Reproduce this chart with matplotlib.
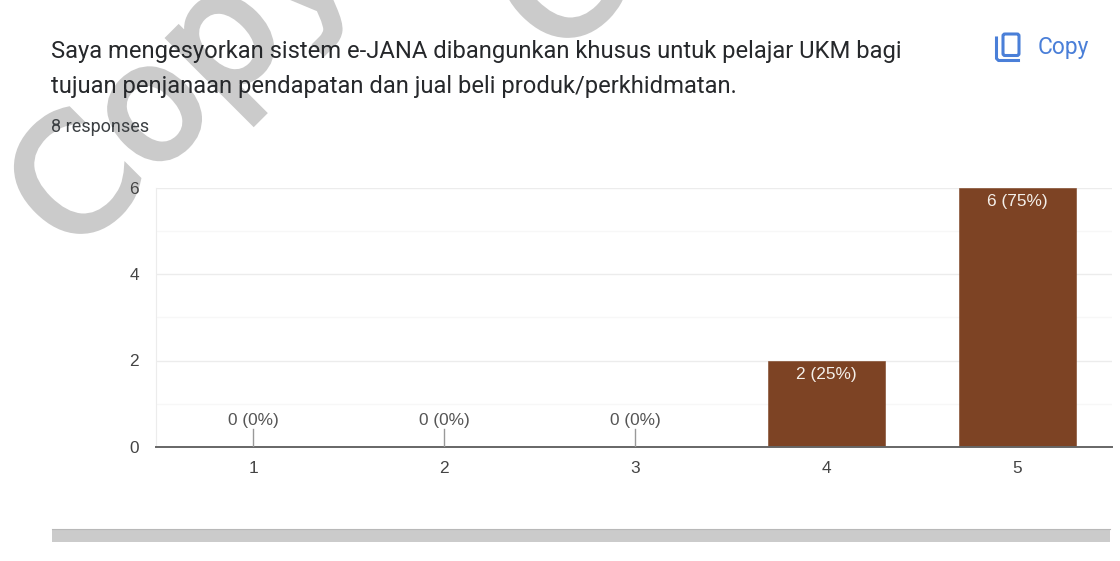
import matplotlib
matplotlib.use('Agg')
import matplotlib.pyplot as plt
import matplotlib.patheffects as pe
from matplotlib.patches import Rectangle, FancyBboxPatch

categories = ['1', '2', '3', '4', '5']
counts = [0, 0, 0, 2, 6]
y_ticks = [0, 2, 4, 6]
minor_ticks = [1, 3, 5]
title_lines = ['Saya mengesyorkan sistem e-JANA dibangunkan khusus untuk pelajar UKM bagi',
               'tujuan penjanaan pendapatan dan jual beli produk/perkhidmatan.']
n_responses = '8 responses'

BROWN = '#7d4324'
GREY = '#cbcbcb'
total = sum(counts)

fig = plt.figure(figsize=(11.2, 5.61), dpi=100)

# full-figure layer in pixel coordinates for the page furniture
page = fig.add_axes([0, 0, 1, 1])
page.set_xlim(0, 1120)
page.set_ylim(561, 0)
page.axis('off')

# repeated watermark behind everything, thickened with an outline
for wx, wy in [(72, 258), (559, 62)]:
    page.text(wx, wy, 'Copy', fontsize=115, family='DejaVu Sans', color=GREY,
              rotation=45, rotation_mode='anchor', ha='left', va='baseline', clip_on=True, zorder=1,
              path_effects=[pe.withStroke(linewidth=4, foreground=GREY, joinstyle='miter')])

page.text(51, 51, title_lines[0], fontsize=17.1, family='Roboto', color='#26282b', va='center', zorder=5)
page.text(51, 86, title_lines[1], fontsize=17.1, family='Roboto', color='#26282b', va='center', zorder=5)
page.text(51, 127, n_responses, fontsize=13, family='Roboto', color='#3c4043', va='center', zorder=5)

# copy button
BLUE = '#4a7fd8'
page.add_patch(FancyBboxPatch((1003, 34), 16, 21.5, boxstyle='round,pad=0,rounding_size=2',
                              fill=False, ec=BLUE, lw=2.2, zorder=5))
page.plot([996.5, 996.5, 998.5, 1018.5], [38, 58.5, 60.5, 60.5], color=BLUE, lw=2.2, zorder=5)
page.text(1038, 47, 'Copy', fontsize=16.4, family='Roboto', color=BLUE, va='center', zorder=5)

# section divider under the chart
page.add_patch(Rectangle((52, 529), 1058, 13, fc=GREY, ec='none', zorder=2))
page.plot([52, 1110], [529, 529], color='#b8b8b8', lw=0.8, zorder=2)

# chart axes, transparent so the watermark shows through
ax = fig.add_axes([156 / 1120, 1 - 447 / 561, (1112 - 156) / 1120, (447 - 187.5) / 561])
ax.patch.set_alpha(0)
positions = list(range(1, len(categories) + 1))
bars = ax.bar(positions, counts, width=0.615, color=BROWN, edgecolor=BROWN, linewidth=0.4, zorder=3)

ax.set_xlim(0.49, 5.495)
ax.set_ylim(0, 6)
ax.set_xticks(positions)
ax.set_xticklabels(categories)
ax.set_yticks(y_ticks)
ax.set_yticks(minor_ticks, minor=True)
ax.tick_params(axis='both', which='both', length=0)
ax.tick_params(axis='x', pad=10, labelsize=12.4, labelcolor='#444444')
ax.tick_params(axis='y', pad=12.3, labelsize=12.4, labelcolor='#444444')
for lbl in ax.get_xticklabels() + ax.get_yticklabels():
    lbl.set_family('Liberation Sans')

ax.grid(axis='y', which='major', color='#ececec', lw=1, zorder=0)
ax.grid(axis='y', which='minor', color='#f7f7f7', lw=1, zorder=0)
ax.set_axisbelow(True)
for side in ['top', 'right']:
    ax.spines[side].set_visible(False)
ax.spines['left'].set_color('#ececec')
ax.spines['bottom'].set_color('#666666')
ax.spines['bottom'].set_linewidth(1.4)
ax.spines['bottom'].set_zorder(4)

# value labels: white inside tall bars, dark over a leader line for empty ones
for pos, val in zip(positions, counts):
    label = f'{val} ({val / total:.0%})'
    if val > 0:
        ax.annotate(label, (pos, val), xytext=(0, -14), textcoords='offset pixels',
                    ha='center', va='center', fontsize=12.4, family='Liberation Sans',
                    color='#f4efe9', zorder=6)
    else:
        ax.annotate(label, (pos, val), xytext=(0, 26), textcoords='offset pixels',
                    ha='center', va='center', fontsize=12.4, family='Liberation Sans',
                    color='#555555', zorder=6)
        ax.plot([pos, pos], [0, 0.42], color='#999999', lw=1, zorder=5)

fig.savefig('out.png', dpi=100)
